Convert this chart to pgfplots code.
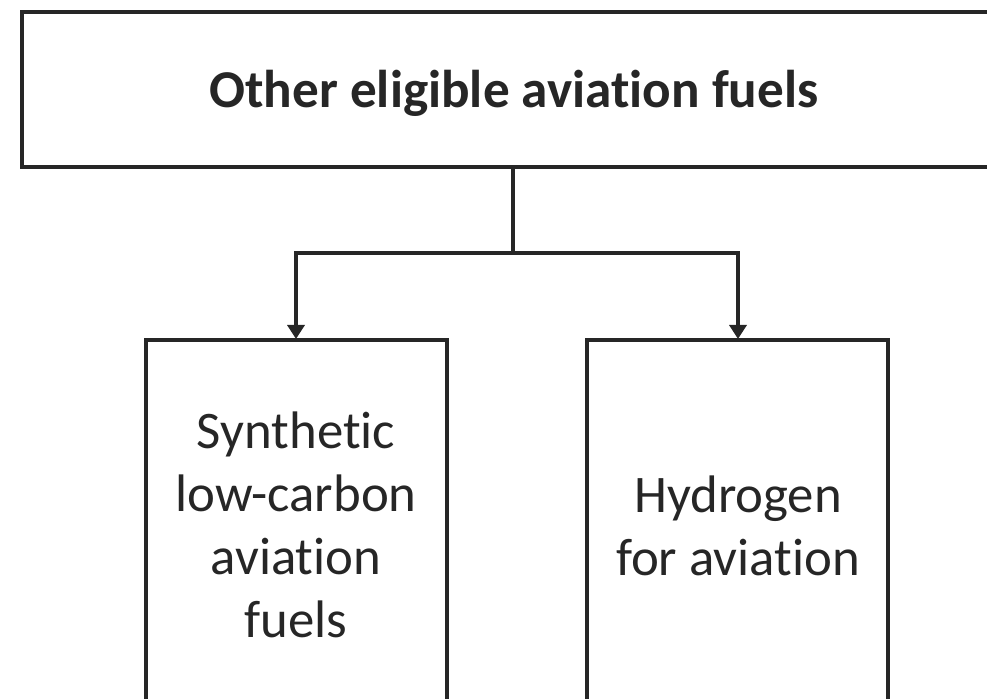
\documentclass[border=0pt]{standalone}
\usepackage{fontspec}
\setmainfont{Carlito}[Ligatures={NoCommon,NoContextual}]
\newcommand{\tI}{t\kern0pt i}
\usepackage{pgfplots}
\pgfplotsset{compat=1.18}
\usetikzlibrary{arrows.meta}
\definecolor{ink}{HTML}{262626}
\begin{document}
\begin{tikzpicture}
\begin{axis}[
  width=493.5pt, height=349.5pt, scale only axis,
  xmin=0, xmax=987, ymin=0, ymax=699, y dir=reverse,
  hide axis, clip=true,
]
\addplot[draw=none] coordinates {(0,0) (987,699)};
% top box
\addplot[ink, line width=1.7pt, line join=miter] coordinates {(1010,12) (22,12) (22,167) (1010,167)};
% bottom boxes
\addplot[ink, line width=1.7pt, line join=miter] coordinates {(146,720) (146,340) (447,340) (447,720)};
\addplot[ink, line width=1.7pt, line join=miter] coordinates {(587,720) (587,340) (888,340) (888,720)};
% connectors
\addplot[ink, line width=1.7pt] coordinates {(513,167) (513,253)};
\addplot[ink, line width=1.7pt, line join=miter, {Triangle[width=8.5pt,length=7pt]}-{Triangle[width=8.5pt,length=7pt]}] coordinates {(296,339) (296,253) (738,253) (738,339)};
% texts
\node[ink, font=\fontsize{26.6}{30}\selectfont\bfseries] at (axis cs:514,93) {Other eligible avia\tI on fuels};
\node[ink, align=center, font=\fontsize{26.4}{31.5}\selectfont] at (axis cs:296,525) {Synthe\tI c\\low-carbon\\avia\tI on\\fuels};
\node[ink, align=center, font=\fontsize{26.4}{31.5}\selectfont] at (axis cs:738,526) {Hydrogen\\for avia\tI on};
\end{axis}
\end{tikzpicture}
\end{document}
